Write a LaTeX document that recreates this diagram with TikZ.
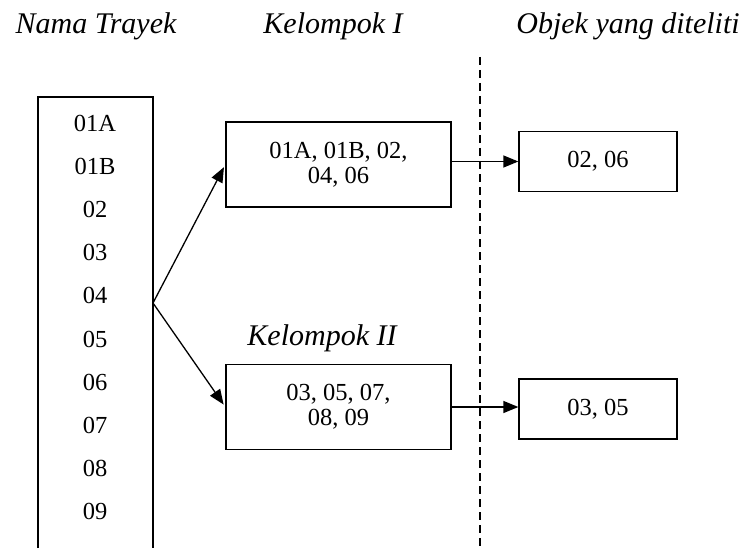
\documentclass[tikz,border=0pt]{standalone}
\usepackage{fontspec}
\setmainfont{Liberation Serif}
\usetikzlibrary{arrows.meta}
\begin{document}
\begin{tikzpicture}[x=1pt,y=-1pt,
  grp/.style={draw,line width=1.3pt,minimum width=225pt,minimum height=85pt,align=center,font=\fontsize{24.5}{25}\selectfont},
  res/.style={draw,line width=1.3pt,minimum width=158pt,minimum height=60pt,font=\fontsize{24.5}{25}\selectfont},
  item/.style={font=\fontsize{24.5}{25}\selectfont},
  head/.style={anchor=base,font=\fontsize{30}{31}\selectfont\itshape},
  link/.style={-{Triangle[length=15pt,width=12pt]},line width=1.3pt}]
  \useasboundingbox (0,0) rectangle (743,548);
  % column titles
  \node[head] (hname) at (96,34) {Nama Trayek};
  \node[head] (hgrp1) at (333,34) {Kelompok I};
  \node[head] (hobj) at (628,34) {Objek yang diteliti};
  \node[head] (hgrp2) at (322,345) {Kelompok II};
  % list of routes
  \draw[line width=1.3pt] (38,548) |- (153,97) -- (153,548);
  \foreach \t [count=\i from 0] in {01A,01B,02,03,04,05,06,07,08,09}
    \node[item] (r\i) at (95,{123+43.2*\i}) {\t};
  \coordinate (src) at (153,303);
  % groups and objects
  \node[grp] (k1) at (338.5,164.5) {01A, 01B, 02,\\04, 06};
  \node[grp] (k2) at (338.5,407) {03, 05, 07,\\08, 09};
  \node[res] (o1) at (598,161.5) {02, 06};
  \node[res] (o2) at (598,409) {03, 05};
  \draw[dashed,dash pattern=on 8pt off 5pt,line width=1.3pt] (480,57) -- (480,548);
  \draw[link,shorten >=3pt] (src) -- (k1.west);
  \draw[link,shorten >=3pt] (src) -- (k2.west);
  \draw[link] (k1.east |- o1.west) -- (o1.west);
  \draw[link] (k2.east |- k2.west) -- (o2.west |- k2.west);
\end{tikzpicture}
\end{document}
